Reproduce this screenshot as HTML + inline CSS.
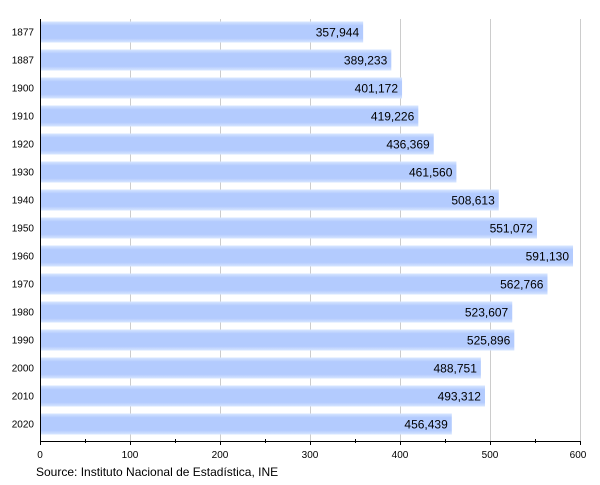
<!DOCTYPE html>
<html><head><style>body{margin:0;background:#fff}</style></head><body>
<svg width="600" height="480" xmlns="http://www.w3.org/2000/svg" font-family="Liberation Sans, sans-serif">
<defs><linearGradient id="g" x1="0" y1="0" x2="0" y2="1">
<stop offset="0" stop-color="#d8e6ff"/><stop offset="0.2" stop-color="#b3cbfe"/><stop offset="0.8" stop-color="#b3cbfe"/><stop offset="1" stop-color="#d8e6ff"/></linearGradient></defs>
<g stroke="#ccc" stroke-width="1">
<line x1="130.5" y1="19" x2="130.5" y2="441"/><line x1="220.5" y1="19" x2="220.5" y2="441"/>
<line x1="310.5" y1="19" x2="310.5" y2="441"/><line x1="400.5" y1="19" x2="400.5" y2="441"/>
<line x1="490.5" y1="19" x2="490.5" y2="441"/><line x1="580.5" y1="19" x2="580.5" y2="441"/>
</g>
<g id="bars" fill="url(#g)"></g>
<g id="lab" font-size="12" fill="#000"></g>
<line x1="40.5" y1="19" x2="40.5" y2="441" stroke="#000"/>
<line x1="40" y1="441.5" x2="581" y2="441.5" stroke="#000"/>
<g stroke="#000">
<line x1="40.5" y1="441" x2="40.5" y2="445"/><line x1="85.5" y1="439" x2="85.5" y2="443"/>
<line x1="130.5" y1="441" x2="130.5" y2="445"/><line x1="175.5" y1="439" x2="175.5" y2="443"/>
<line x1="220.5" y1="441" x2="220.5" y2="445"/><line x1="265.5" y1="439" x2="265.5" y2="443"/>
<line x1="310.5" y1="441" x2="310.5" y2="445"/><line x1="355.5" y1="439" x2="355.5" y2="443"/>
<line x1="400.5" y1="441" x2="400.5" y2="445"/><line x1="445.5" y1="439" x2="445.5" y2="443"/>
<line x1="490.5" y1="441" x2="490.5" y2="445"/><line x1="535.5" y1="439" x2="535.5" y2="443"/>
<line x1="580.5" y1="441" x2="580.5" y2="445"/>
</g>
<g font-size="10" text-anchor="middle">
<text x="40" y="458">0</text><text x="130" y="458">100</text><text x="220" y="458">200</text>
<text x="310" y="458">300</text><text x="400" y="458">400</text><text x="490" y="458">500</text><text x="578" y="458">600</text>
</g>
<text x="36" y="476" font-size="12">Source: Instituto Nacional de Estadística, INE</text>
<script>
var d=[["1877",357944],["1887",389233],["1900",401172],["1910",419226],["1920",436369],["1930",461560],["1940",508613],["1950",551072],["1960",591130],["1970",562766],["1980",523607],["1990",525896],["2000",488751],["2010",493312],["2020",456439]];
var b=document.getElementById('bars'),l=document.getElementById('lab'),ns="http://www.w3.org/2000/svg";
d.forEach(function(r,i){var cy=32+28*i,w=r[1]/1000*0.9;
var R=document.createElementNS(ns,'rect');R.setAttribute('x',41);R.setAttribute('y',cy-10.5);R.setAttribute('width',w);R.setAttribute('height',21);b.appendChild(R);
var t=document.createElementNS(ns,'text');t.setAttribute('x',40+w-3);t.setAttribute('y',cy+4.5);t.setAttribute('text-anchor','end');t.textContent=r[1].toLocaleString('en-US');l.appendChild(t);
var y=document.createElementNS(ns,'text');y.setAttribute('x',34);y.setAttribute('y',cy+3.5);y.setAttribute('text-anchor','end');y.setAttribute('font-size','10');y.textContent=r[0];l.appendChild(y);});
</script>
</svg>
</body></html>
